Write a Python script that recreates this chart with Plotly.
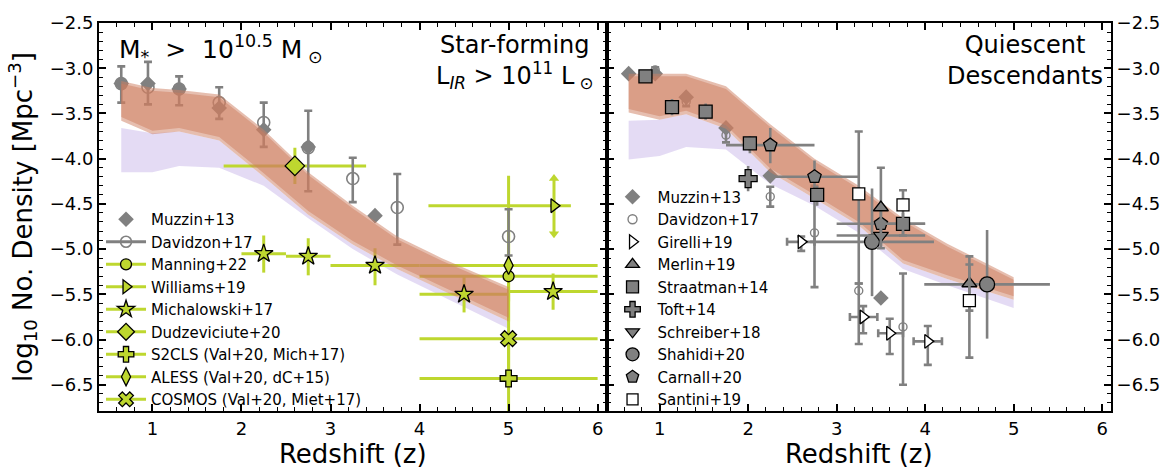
import plotly.graph_objects as go

# ---------------- model bands ----------------
band_z = [0.65, 1.0, 1.3, 1.75, 2.25, 2.75, 3.25, 3.75, 4.25, 5.0]

# star-forming progenitors (left panel)
sf_a_top = [-3.14, -3.22, -3.24, -3.29, -3.68, -4.15, -4.52, -4.86, -5.10, -5.42]
sf_a_bot = [-3.54, -3.69, -3.66, -3.76, -4.16, -4.58, -4.91, -5.18, -5.41, -5.76]
sf_b_top = [-3.17, -3.25, -3.27, -3.32, -3.71, -4.18, -4.55, -4.89, -5.13, -5.45]
sf_b_bot = [-3.58, -3.73, -3.70, -3.80, -4.20, -4.62, -4.95, -5.22, -5.45, -5.80]
sf_lav_top = [-3.66, -3.72, -3.70, -3.80, -4.20, -4.62, -4.95, -5.22, -5.45, -5.80]
sf_lav_bot = [-4.15, -4.15, -4.08, -4.10, -4.30, -4.66, -5.00, -5.28, -5.52, -5.88]

# quiescent descendants (right panel)
q_a_top = [-3.06, -3.06, -3.06, -3.20, -3.62, -4.00, -4.30, -4.66, -4.94, -5.31]
q_a_bot = [-3.45, -3.53, -3.47, -3.63, -4.11, -4.40, -4.70, -5.12, -5.29, -5.52]
q_b_top = [-3.09, -3.09, -3.09, -3.23, -3.65, -4.03, -4.33, -4.69, -4.97, -5.34]
q_b_bot = [-3.49, -3.57, -3.51, -3.67, -4.15, -4.44, -4.74, -5.16, -5.33, -5.56]
q_lav_top = [-3.58, -3.57, -3.51, -3.67, -4.15, -4.44, -4.74, -5.16, -5.33, -5.56]
q_lav_bot = [-4.01, -3.97, -3.87, -3.90, -4.28, -4.52, -4.82, -5.22, -5.40, -5.65]

# ---------------- star-forming literature ----------------
muzzin_sf_z = [0.65, 0.95, 1.3, 1.75, 2.25, 2.75, 3.5]
muzzin_sf_n = [-3.17, -3.17, -3.23, -3.44, -3.68, -3.87, -4.63]

davidzon_sf_z = [0.65, 0.95, 1.3, 1.75, 2.25, 2.75, 3.25, 3.75, 5.0]
davidzon_sf_n = [-3.17, -3.21, -3.23, -3.38, -3.60, -3.88, -4.22, -4.54, -4.86]
davidzon_sf_up = [0.19, 0.28, 0.14, 0.17, 0.22, 0.41, 0.23, 0.37, 0.30]
davidzon_sf_dn = [0.21, 0.19, 0.18, 0.18, 0.27, 0.48, 0.26, 0.41, 0.21]

manning_z = [5.0]
manning_n = [-5.30]
manning_xe = [1.0]
manning_up = [1.11]
manning_dn = [0.50]

williams_z = [5.51]
williams_n = [-4.52]
williams_xm = [1.41]
williams_xp = [0.19]
williams_lim_hi = [-4.22]
williams_lim_lo = [-4.83]

michalowski_z = [2.25, 2.75, 3.5, 4.5, 5.5]
michalowski_n = [-5.05, -5.08, -5.18, -5.50, -5.47]
michalowski_xe = [0.25, 0.25, 0.5, 0.5, 0.5]
michalowski_up = [0.20, 0.20, 0.19, 0.20, 0.20]
michalowski_dn = [0.21, 0.21, 0.22, 0.20, 0.20]

dudz_z = [2.6]
dudz_n = [-4.08]
dudz_xe = [0.8]
dudz_up = [0.20]
dudz_dn = [0.20]

s2cls_z = [5.0]
s2cls_n = [-6.43]
s2cls_xe = [1.0]
s2cls_up = [0.50]
s2cls_dn = [0.60]

aless_z = [5.0]
aless_n = [-5.18]
aless_xe = [1.0]
aless_up = [0.40]
aless_dn = [0.40]

cosmos_z = [5.0]
cosmos_n = [-5.99]
cosmos_xe = [1.0]
cosmos_up = [0.50]
cosmos_dn = [0.50]

# ---------------- quiescent literature ----------------
muzzin_q_z = [0.65, 0.95, 1.3, 1.75, 2.25, 3.5]
muzzin_q_n = [-3.06, -3.06, -3.32, -3.66, -4.19, -5.54]

davidzon_q_z = [0.95, 1.3, 1.75, 2.25, 2.75, 3.25, 3.75]
davidzon_q_n = [-3.02, -3.37, -3.74, -4.42, -4.82, -5.46, -5.86]
davidzon_q_up = [0.03, 0.05, 0.07, 0.11, 0.52, 0.08, 0.59]
davidzon_q_dn = [0.03, 0.05, 0.08, 0.11, 0.60, 0.59, 0.64]

girelli_z = [2.6, 3.3, 3.6, 4.03]
girelli_n = [-4.92, -5.75, -5.93, -6.02]
girelli_xm = [0.16, 0.15, 0.13, 0.16]
girelli_xp = [0.15, 0.16, 0.15, 0.16]
girelli_up = [0.06, 0.12, 0.16, 0.17]
girelli_dn = [0.10, 0.18, 0.23, 0.26]

merlin_z = [3.5, 4.5]
merlin_n = [-4.54, -5.38]
merlin_up = [0.44, 0.21]
merlin_dn = [0.45, 0.30]

straatman_z = [0.84, 1.14, 1.52, 2.02, 2.78, 3.75]
straatman_n = [-3.09, -3.43, -3.48, -3.83, -4.40, -4.72]
straatman_xe = [0, 0, 0, 0, 0, 0.25]
straatman_up = [0.05, 0.09, 0.09, 0.08, 0.10, 0.12]
straatman_dn = [0.05, 0.09, 0.09, 0.11, 0.12, 0.13]

toft_z = [2.0]
toft_n = [-4.22]
toft_up = [0.14]
toft_dn = [0.14]

schreiber_z = [3.5]
schreiber_n = [-4.85]
schreiber_xe = [0.5]
schreiber_up = [0.15]
schreiber_dn = [0.15]

shahidi_z = [3.4, 4.7]
shahidi_n = [-4.92, -5.39]
shahidi_xe = [0.7, 0.71]
shahidi_up = [0.59, 0.60]
shahidi_dn = [0.60, 0.60]

carnall_z = [2.25, 2.75, 3.5]
carnall_n = [-3.85, -4.20, -4.72]
carnall_xe = [0.5, 0.5, 0.5]
carnall_up = [0.19, 0.18, 0.20]
carnall_dn = [0.20, 0.20, 0.20]

santini_z = [3.25, 3.75, 4.5]
santini_n = [-4.39, -4.51, -5.57]
santini_up = [0.69, 0.16, 0.49]
santini_dn = [0.99, 0.34, 0.63]

# ---------------- styles ----------------
FONT = "DejaVu Sans"
GRAY = "#808080"
GREEN = "#bed72f"
SALMON = "rgba(205,125,95,0.5)"
LAVENDER = "rgba(190,170,228,0.42)"
EDGE = dict(color="black", width=1.3)
NB = "\u00a0"

fig = go.Figure()


def band(z, top, bot, color, xa, ya):
    fig.add_trace(go.Scatter(
        x=list(z) + list(z)[::-1], y=list(top) + list(bot)[::-1],
        fill="toself", fillcolor=color, mode="lines", line=dict(width=0),
        hoverinfo="skip", showlegend=False, xaxis=xa, yaxis=ya))


def ebar(arr, arrm, color, thick, cap):
    if arr is None:
        return None
    return dict(type="data", symmetric=False, array=arr, arrayminus=arrm,
                color=color, thickness=thick, width=cap)


def pts(z, n, xa, ya, marker, xp=None, xm=None, yp=None, ym=None,
        ecolor=GRAY, thick=2.6, cap=0, show_marker=True):
    fig.add_trace(go.Scatter(
        x=z, y=n, mode="markers", xaxis=xa, yaxis=ya, showlegend=False,
        marker=marker if show_marker else dict(size=1, opacity=0),
        error_x=ebar(xp, xm, ecolor, thick, cap),
        error_y=ebar(yp, ym, ecolor, thick, cap)))


def legend_entry(name, legend, marker, line=None):
    fig.add_trace(go.Scatter(
        x=[None], y=[None], name=name, legend=legend,
        legendgroup=legend + name,
        mode="lines+markers" if line else "markers",
        line=line, marker=marker))


# ---------------- left panel: star-forming ----------------
band(band_z, sf_lav_top, sf_lav_bot, LAVENDER, "x", "y")

green_sets = [
    (manning_z, manning_n, manning_xe, manning_xe, manning_up, manning_dn),
    (williams_z, williams_n, williams_xp, williams_xm, None, None),
    (michalowski_z, michalowski_n, michalowski_xe, michalowski_xe, michalowski_up, michalowski_dn),
    (dudz_z, dudz_n, dudz_xe, dudz_xe, dudz_up, dudz_dn),
    (s2cls_z, s2cls_n, s2cls_xe, s2cls_xe, s2cls_up, s2cls_dn),
    (aless_z, aless_n, aless_xe, aless_xe, aless_up, aless_dn),
    (cosmos_z, cosmos_n, cosmos_xe, cosmos_xe, cosmos_up, cosmos_dn),
]
for z, n, xp, xm, yp, ym in green_sets:
    pts(z, n, "x", "y", None, xp, xm, yp, ym, ecolor=GREEN, thick=3, show_marker=False)

# Williams+19: double-sided limit arrows
fig.add_trace(go.Scatter(
    x=williams_z * 2, y=williams_lim_hi + williams_lim_lo, mode="lines+markers",
    line=dict(color=GREEN, width=3),
    marker=dict(symbol=["triangle-up", "triangle-down"], size=9, color=GREEN),
    xaxis="x", yaxis="y", showlegend=False, hoverinfo="skip"))

pts(muzzin_sf_z, muzzin_sf_n, "x", "y",
    dict(symbol="diamond", size=12, color=GRAY, line=dict(width=0)))
pts(davidzon_sf_z, davidzon_sf_n, "x", "y",
    dict(symbol="circle-open", size=12, color=GRAY, line=dict(width=1.6, color=GRAY)),
    yp=davidzon_sf_up, ym=davidzon_sf_dn, cap=4)

band(band_z, sf_a_top, sf_a_bot, SALMON, "x", "y")
band(band_z, sf_b_top, sf_b_bot, SALMON, "x", "y")

pts(manning_z, manning_n, "x", "y", dict(symbol="circle", size=11, color=GREEN, line=EDGE))
pts(williams_z, williams_n, "x", "y", dict(symbol="triangle-right", size=12, color=GREEN, line=EDGE))
pts(michalowski_z, michalowski_n, "x", "y", dict(symbol="star", size=14, color=GREEN, line=EDGE))
pts(dudz_z, dudz_n, "x", "y", dict(symbol="diamond", size=15, color=GREEN, line=EDGE))
pts(s2cls_z, s2cls_n, "x", "y", dict(symbol="cross", size=14, color=GREEN, line=EDGE))
pts(aless_z, aless_n, "x", "y", dict(symbol="diamond-tall", size=13, color=GREEN, line=EDGE))
pts(cosmos_z, cosmos_n, "x", "y", dict(symbol="x", size=14, color=GREEN, line=EDGE))

# ---------------- right panel: quiescent ----------------
band(band_z, q_lav_top, q_lav_bot, LAVENDER, "x2", "y2")
pts(muzzin_q_z, muzzin_q_n, "x2", "y2",
    dict(symbol="diamond", size=12, color=GRAY, line=dict(width=0)))
pts(davidzon_q_z, davidzon_q_n, "x2", "y2",
    dict(symbol="circle-open", size=8, color=GRAY, line=dict(width=1.4, color=GRAY)),
    yp=davidzon_q_up, ym=davidzon_q_dn, cap=4)
band(band_z, q_a_top, q_a_bot, SALMON, "x2", "y2")
band(band_z, q_b_top, q_b_bot, SALMON, "x2", "y2")

pts(carnall_z, carnall_n, "x2", "y2",
    dict(symbol="pentagon", size=14, color=GRAY, line=EDGE),
    carnall_xe, carnall_xe, carnall_up, carnall_dn)
pts(shahidi_z, shahidi_n, "x2", "y2",
    dict(symbol="circle", size=15, color=GRAY, line=EDGE),
    shahidi_xe, shahidi_xe, shahidi_up, shahidi_dn)
pts(schreiber_z, schreiber_n, "x2", "y2",
    dict(symbol="triangle-down", size=13, color=GRAY, line=EDGE),
    schreiber_xe, schreiber_xe, schreiber_up, schreiber_dn)
pts(straatman_z, straatman_n, "x2", "y2",
    dict(symbol="square", size=13, color=GRAY, line=EDGE),
    straatman_xe, straatman_xe, straatman_up, straatman_dn)
pts(toft_z, toft_n, "x2", "y2",
    dict(symbol="cross", size=15, color=GRAY, line=EDGE),
    yp=toft_up, ym=toft_dn)
pts(merlin_z, merlin_n, "x2", "y2",
    dict(symbol="triangle-up", size=13, color=GRAY, line=EDGE),
    yp=merlin_up, ym=merlin_dn, cap=4)
pts(santini_z, santini_n, "x2", "y2",
    dict(symbol="square", size=12, color="white", line=EDGE),
    yp=santini_up, ym=santini_dn, cap=4)
pts(girelli_z, girelli_n, "x2", "y2",
    dict(symbol="triangle-right", size=12, color="white", line=EDGE),
    girelli_xp, girelli_xm, girelli_up, girelli_dn, cap=4)

# ---------------- legends ----------------
gl = dict(color=GREEN, width=3)
legend_entry("Muzzin+13", "legend", dict(symbol="diamond", size=12, color=GRAY))
legend_entry("Davidzon+17", "legend",
             dict(symbol="circle-open", size=11, color=GRAY, line=dict(width=1.6, color=GRAY)),
             dict(color=GRAY, width=3))
legend_entry("Manning+22", "legend", dict(symbol="circle", size=11, color=GREEN, line=EDGE), gl)
legend_entry("Williams+19", "legend", dict(symbol="triangle-right", size=12, color=GREEN, line=EDGE), gl)
legend_entry("Michalowski+17", "legend", dict(symbol="star", size=13, color=GREEN, line=EDGE), gl)
legend_entry("Dudzeviciute+20", "legend", dict(symbol="diamond", size=13, color=GREEN, line=EDGE), gl)
legend_entry("S2CLS (Val+20, Mich+17)", "legend", dict(symbol="cross", size=13, color=GREEN, line=EDGE), gl)
legend_entry("ALESS (Val+20, dC+15)", "legend", dict(symbol="diamond-tall", size=13, color=GREEN, line=EDGE), gl)
legend_entry("COSMOS (Val+20, Miet+17)", "legend", dict(symbol="x", size=13, color=GREEN, line=EDGE), gl)

legend_entry("Muzzin+13", "legend2", dict(symbol="diamond", size=12, color=GRAY))
legend_entry("Davidzon+17", "legend2",
             dict(symbol="circle-open", size=9, color=GRAY, line=dict(width=1.4, color=GRAY)))
legend_entry("Girelli+19", "legend2", dict(symbol="triangle-right", size=12, color="white", line=EDGE))
legend_entry("Merlin+19", "legend2", dict(symbol="triangle-up", size=12, color=GRAY, line=EDGE))
legend_entry("Straatman+14", "legend2", dict(symbol="square", size=12, color=GRAY, line=EDGE))
legend_entry("Toft+14", "legend2", dict(symbol="cross", size=13, color=GRAY, line=EDGE))
legend_entry("Schreiber+18", "legend2", dict(symbol="triangle-down", size=12, color=GRAY, line=EDGE))
legend_entry("Shahidi+20", "legend2", dict(symbol="circle", size=13, color=GRAY, line=EDGE))
legend_entry("Carnall+20", "legend2", dict(symbol="pentagon", size=13, color=GRAY, line=EDGE))
legend_entry("Santini+19", "legend2", dict(symbol="square", size=11, color="white", line=EDGE))

# ---------------- axes & layout ----------------
split = 0.5015
xcommon = dict(range=[0.4, 6.1], tick0=0, dtick=1, ticks="inside", ticklen=7,
               tickwidth=1.5, tickcolor="black", mirror="allticks", showline=True,
               linewidth=2, linecolor="black", showgrid=False, zeroline=False,
               tickfont=dict(size=18, family=FONT, color="black"),
               minor=dict(dtick=0.2, tick0=0, ticks="inside", ticklen=4, tickcolor="black", tickwidth=1.2),
               title=dict(text="Redshift (z)", font=dict(size=26, family=FONT, color="black"), standoff=4))
ycommon = dict(range=[-6.79, -2.5], tick0=-2.5, dtick=0.5, tickformat=".1f",
               ticks="inside", ticklen=7, tickwidth=1.5, tickcolor="black",
               mirror="allticks", showline=True, linewidth=2, linecolor="black",
               showgrid=False, zeroline=False,
               tickfont=dict(size=18, family=FONT, color="black"),
               minor=dict(dtick=0.1, tick0=0, ticks="inside", ticklen=4, tickcolor="black", tickwidth=1.2))

legend_style = dict(bgcolor="rgba(0,0,0,0)", borderwidth=0, itemwidth=40,
                    font=dict(size=15, family=FONT, color="black"),
                    xanchor="left", yanchor="top", tracegroupgap=0,
                    traceorder="grouped")

fig.update_layout(
    width=1172, height=473,
    margin=dict(l=99, r=60, t=14, b=58),
    paper_bgcolor="white", plot_bgcolor="white",
    font=dict(family=FONT, color="black"),
    xaxis=dict(domain=[0, split], anchor="y", **xcommon),
    xaxis2=dict(domain=[split, 1], anchor="y2", **xcommon),
    yaxis=dict(anchor="x", domain=[0, 1],
               title=dict(text="log<sub>10</sub> No. Density [Mpc<sup>−3</sup>]",
                          font=dict(size=26, family=FONT, color="black"), standoff=10),
               **ycommon),
    yaxis2=dict(anchor="x2", domain=[0, 1], side="right", **ycommon),
    legend=dict(x=0.002, y=0.536, **legend_style),
    legend2=dict(x=split + 0.001, y=0.594, **legend_style),
    showlegend=True,
    annotations=[
        dict(text=f"M<sub>*</sub>{NB}{NB}>{NB}{NB}10<sup>10.5</sup>{NB}M<sub>{NB}⊙</sub>",
             xref="x domain", yref="y domain", x=0.035, y=0.985,
             xanchor="left", yanchor="top", showarrow=False,
             font=dict(size=25, family=FONT, color="black")),
        dict(text=f"Star-forming<br>L<sub><i>IR</i></sub>{NB}>{NB}10<sup>11</sup>{NB}L<sub>{NB}⊙</sub>",
             xref="x domain", yref="y domain", x=0.82, y=0.985,
             xanchor="center", yanchor="top", align="center", showarrow=False,
             font=dict(size=24, family=FONT, color="black")),
        dict(text="Quiescent<br>Descendants",
             xref="x2 domain", yref="y2 domain", x=0.83, y=0.985,
             xanchor="center", yanchor="top", align="center", showarrow=False,
             font=dict(size=24, family=FONT, color="black")),
    ],
)

fig.write_html("out.html")
